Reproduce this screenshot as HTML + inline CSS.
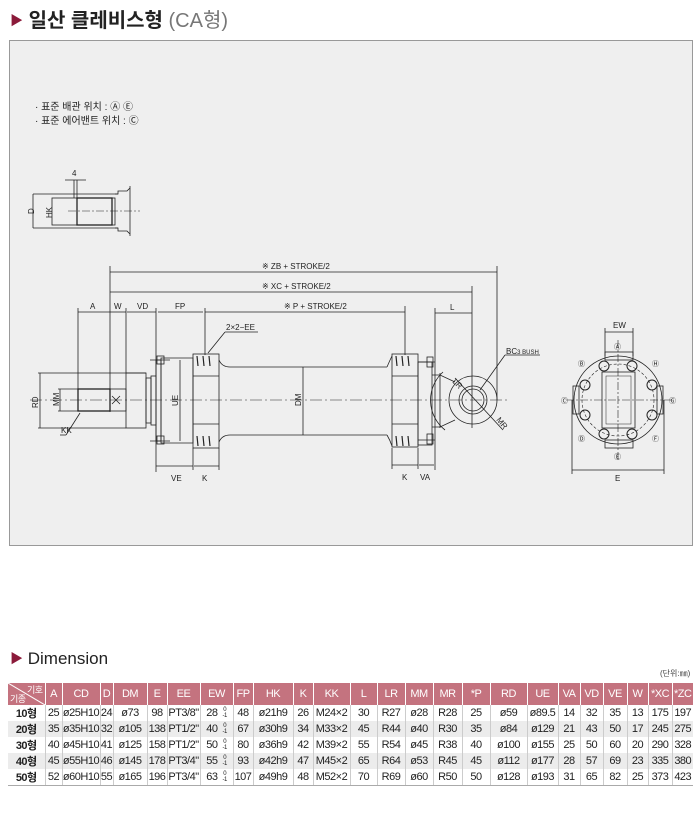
<!DOCTYPE html>
<html><head><meta charset="utf-8"><style>
body{margin:0;width:700px;height:840px;background:#fff;position:relative;overflow:hidden;font-family:"Liberation Sans","Noto Sans CJK KR",sans-serif;}
.t{position:absolute;white-space:nowrap;}
table{position:absolute;left:8px;top:683px;border-collapse:collapse;table-layout:fixed;font-size:11px;letter-spacing:-0.5px;}
td,th{padding:0;text-align:center;overflow:hidden;white-space:nowrap;}
th{background:#c4737f;color:#fff;font-weight:normal;height:22px;border-left:1px solid #fff;font-size:11px;}
td{height:15px;border-left:1px solid #ccc;color:#222;}
tr.g td{background:#ececec;}
td.f{font-weight:bold;border-left:none;}
tbody tr:last-child td{border-bottom:1px solid #aaa;}
sup.s{display:inline-block;font-size:6px;line-height:6px;vertical-align:middle;margin-left:5px;text-align:center}
</style></head><body>
<div class="t" style="left:10px;top:4px;font-size:20px;color:#222;"><span style="color:#8b1a3a;font-size:13px;vertical-align:2px;">▶</span> <b style="font-weight:bold">일산 클레비스형</b> <span style="color:#777">(CA형)</span></div>
<div style="position:absolute;left:9px;top:40px;width:682px;height:504px;background:#efefef;border:1px solid #999;"></div>
<div class="t" style="left:35px;top:101px;font-size:10px;color:#222;line-height:14px;">· 표준 배관 위치 : Ⓐ Ⓔ<br>· 표준 에어밴트 위치 : Ⓒ</div>
<svg style="position:absolute;left:0;top:0" width="700" height="560" font-family="Liberation Sans, sans-serif" font-size="8" fill="none" stroke="#222" stroke-width="0.8">
<g>
<line x1="33" y1="194" x2="118" y2="194"/><line x1="33" y1="228" x2="118" y2="228"/>
<line x1="33" y1="194" x2="33" y2="228"/>
<rect x="52" y="198" width="63" height="27"/>
<rect x="77" y="198" width="35" height="27" stroke-width="1.3"/>
<path d="M115 194 L118 194 L118 191 L127 191 L130 188 M115 228 L118 228 L118 231 L127 231 L130 234"/>
<line x1="130" y1="186" x2="130" y2="236"/>
<line x1="68" y1="211" x2="140" y2="211" stroke-dasharray="8 2 2 2" stroke-width="0.6"/>
<line x1="74" y1="180" x2="74" y2="198"/><line x1="77" y1="180" x2="77" y2="198"/>
<line x1="65" y1="180" x2="86" y2="180"/>
</g>
<g stroke="none" fill="#222">
<text x="72" y="176">4</text>
<text x="0" y="0" transform="translate(34,214) rotate(-90)">D</text>
<text x="0" y="0" transform="translate(52,218) rotate(-90)">HK</text>
</g>
<line x1="110" y1="272" x2="497" y2="272"/><line x1="110" y1="292" x2="472" y2="292"/>
<line x1="205" y1="312" x2="405" y2="312"/>
<line x1="110" y1="266" x2="110" y2="412"/>
<line x1="497" y1="266" x2="497" y2="400"/><line x1="472" y1="286" x2="472" y2="428"/>
<line x1="405" y1="306" x2="405" y2="355"/>
<line x1="78" y1="312" x2="110" y2="312"/><line x1="110" y1="312" x2="126" y2="312"/><line x1="127" y1="312" x2="156" y2="312"/><line x1="158" y1="312" x2="203" y2="312"/>
<line x1="78" y1="308" x2="78" y2="392"/><line x1="126" y1="308" x2="126" y2="373"/><line x1="156" y1="308" x2="156" y2="472"/><line x1="205" y1="308" x2="205" y2="355"/>
<line x1="435" y1="313" x2="472" y2="313"/><line x1="435" y1="308" x2="435" y2="470"/>
<line x1="156" y1="466" x2="193" y2="466"/><line x1="194" y1="466" x2="219" y2="466"/>
<line x1="193" y1="448" x2="193" y2="470"/><line x1="219" y1="448" x2="219" y2="470"/>
<line x1="392" y1="465" x2="418" y2="465"/><line x1="419" y1="465" x2="434" y2="465"/>
<line x1="392" y1="448" x2="392" y2="469"/><line x1="418" y1="448" x2="418" y2="469"/>
<line x1="38" y1="373" x2="146" y2="373"/><line x1="38" y1="428" x2="126" y2="428"/>
<line x1="40" y1="373" x2="40" y2="428"/>
<line x1="58" y1="389" x2="110" y2="389"/><line x1="58" y1="411" x2="110" y2="411"/><line x1="60" y1="389" x2="60" y2="411"/>
<rect x="78" y="389" width="32" height="22" stroke-width="1.3"/>
<rect x="110" y="389" width="16" height="22"/>
<path d="M112 396 L120 404 M120 396 L112 404"/>
<rect x="126" y="373" width="20" height="55"/>
<rect x="146" y="378" width="5" height="45"/><rect x="151" y="376" width="5" height="49"/>
<rect x="156" y="360" width="5" height="81"/>
<path d="M161 358 L193 358 L193 443 L161 443 Z"/>
<rect x="157" y="356" width="7" height="8"/><rect x="157" y="436" width="7" height="8"/>
<line x1="150" y1="360" x2="170" y2="360"/><line x1="150" y1="441" x2="170" y2="441"/>
<line x1="180" y1="360" x2="180" y2="441"/>
<rect x="193" y="354" width="26" height="94"/>
<line x1="193" y1="376" x2="219" y2="376"/><line x1="193" y1="424" x2="219" y2="424"/>
<path d="M197 356 l1 10 M203 356 l1 10 M209 356 l1 10 M197 436 l1 10 M203 436 l1 10 M209 436 l1 10" stroke-width="1.2"/>
<path d="M219 360 Q222 367 230 367 L387 367 M219 442 Q222 435 230 435 L387 435"/>
<line x1="303" y1="367" x2="303" y2="435"/>
<path d="M387 367 Q390 360 392 356 M387 435 Q390 440 392 446"/>
<rect x="392" y="354" width="26" height="93"/>
<line x1="392" y1="376" x2="418" y2="376"/><line x1="392" y1="424" x2="418" y2="424"/>
<path d="M396 356 l1 10 M402 356 l1 10 M408 356 l1 10 M396 436 l1 10 M402 436 l1 10 M408 436 l1 10" stroke-width="1.2"/>
<rect x="418" y="362" width="14" height="83"/>
<rect x="427" y="357" width="6" height="10"/><rect x="427" y="434" width="6" height="10"/>
<line x1="418" y1="362" x2="435" y2="362"/><line x1="418" y1="440" x2="435" y2="440"/>
<path d="M432 375 L440 375 L455 382 M432 427 L440 427 L455 420"/>
<line x1="440" y1="373" x2="440" y2="428"/>
<circle cx="473" cy="400" r="24"/>
<circle cx="473" cy="400" r="14"/><circle cx="473" cy="400" r="11"/>
<path d="M443 372 A38 38 0 0 0 445 430" />
<line x1="455" y1="378" x2="503" y2="430"/>
<line x1="480" y1="390" x2="505" y2="355"/><line x1="505" y1="355" x2="540" y2="355"/>
<line x1="208" y1="353" x2="225" y2="332"/><line x1="225" y1="332" x2="258" y2="332"/>
<line x1="66" y1="435" x2="80" y2="413"/><line x1="60" y1="435" x2="66" y2="435"/>
<line x1="30" y1="400" x2="510" y2="400" stroke-dasharray="12 3 2 3" stroke-width="0.6"/>
<circle cx="618" cy="400" r="44"/>
<circle cx="618" cy="400" r="36" stroke-dasharray="3 2" stroke-width="0.6"/>
<rect x="602" y="372" width="33" height="56"/>
<rect x="606" y="376" width="25" height="48" stroke-width="0.5"/>
<rect x="605" y="352" width="28" height="8"/><rect x="605" y="440" width="28" height="8"/>
<rect x="573" y="386" width="6" height="28"/><rect x="657" y="386" width="6" height="28"/>
<g stroke-width="1"><circle cx="604" cy="366" r="5"/><circle cx="632" cy="366" r="5"/><circle cx="585" cy="385" r="5"/><circle cx="652" cy="385" r="5"/><circle cx="585" cy="415" r="5"/><circle cx="652" cy="415" r="5"/><circle cx="604" cy="434" r="5"/><circle cx="632" cy="434" r="5"/></g>
<line x1="566" y1="400" x2="672" y2="400" stroke-dasharray="8 2 2 2" stroke-width="0.6"/>
<line x1="618" y1="340" x2="618" y2="460" stroke-dasharray="8 2 2 2" stroke-width="0.6"/>
<line x1="605" y1="332" x2="633" y2="332"/><line x1="605" y1="328" x2="605" y2="356"/><line x1="633" y1="328" x2="633" y2="356"/>
<line x1="572" y1="470" x2="664" y2="470"/><line x1="572" y1="400" x2="572" y2="474"/><line x1="664" y1="400" x2="664" y2="474"/>
<g stroke="none" fill="#222">
<text x="262" y="269">※ ZB + STROKE/2</text>
<text x="262" y="289">※ XC + STROKE/2</text>
<text x="284" y="309">※ P + STROKE/2</text>
<text x="90" y="309">A</text><text x="114" y="309">W</text><text x="137" y="309">VD</text><text x="175" y="309">FP</text>
<text x="450" y="310">L</text>
<text x="226" y="330">2×2−EE</text>
<text x="506" y="354">BC<tspan font-size="6">3 BUSH</tspan></text>
<text x="61" y="433">KK</text>
<text x="171" y="481">VE</text><text x="202" y="481">K</text>
<text x="402" y="480">K</text><text x="420" y="480">VA</text>
<text x="613" y="328">EW</text><text x="615" y="481">E</text>
<text transform="translate(38,408) rotate(-90)">RD</text>
<text transform="translate(59,406) rotate(-90)">MM</text>
<text transform="translate(178,406) rotate(-90)">UE</text>
<text transform="translate(301,406) rotate(-90)">DM</text>
<text transform="translate(452,382) rotate(45)">LR</text>
<text transform="translate(496,420) rotate(50)">MR</text>
<g font-size="7"><text x="614" y="349">Ⓐ</text><text x="578" y="366">Ⓑ</text><text x="652" y="366">Ⓗ</text><text x="561" y="403">Ⓒ</text><text x="669" y="403">Ⓖ</text><text x="578" y="441">Ⓓ</text><text x="652" y="441">Ⓕ</text><text x="614" y="459">Ⓔ</text></g>
</g>
</svg>
<div class="t" style="left:10px;top:648px;font-size:17px;color:#222;"><span style="color:#8b1a3a;font-size:13px;vertical-align:1px;">▶</span> Dimension</div>
<div class="t" style="left:660px;top:668px;font-size:8px;color:#444;">(단위:㎜)</div>
<table>
<colgroup><col style="width:37px"><col style="width:17px"><col style="width:38px"><col style="width:13px"><col style="width:34px"><col style="width:20px"><col style="width:33px"><col style="width:33px"><col style="width:20px"><col style="width:40px"><col style="width:20px"><col style="width:37px"><col style="width:27px"><col style="width:28px"><col style="width:28px"><col style="width:29px"><col style="width:28px"><col style="width:37px"><col style="width:31px"><col style="width:22px"><col style="width:23px"><col style="width:24px"><col style="width:21px"><col style="width:24px"><col style="width:21px"></colgroup>
<thead><tr><th style="border-left:none;position:relative;font-size:9px;"><svg style="position:absolute;left:0;top:0" width="37" height="22"><line x1="0" y1="0" x2="37" y2="22" stroke="#fff"/></svg><span style="position:absolute;right:2px;top:0">기호</span><span style="position:absolute;left:2px;bottom:0">기종</span></th><th>A</th><th>CD</th><th>D</th><th>DM</th><th>E</th><th>EE</th><th>EW</th><th>FP</th><th>HK</th><th>K</th><th>KK</th><th>L</th><th>LR</th><th>MM</th><th>MR</th><th>*P</th><th>RD</th><th>UE</th><th>VA</th><th>VD</th><th>VE</th><th>W</th><th>*XC</th><th>*ZC</th></tr></thead>
<tbody>
<tr><td class="f">10형</td><td>25</td><td>ø25H10</td><td>24</td><td>ø73</td><td>98</td><td>PT3/8"</td><td>28<sup class="s">0<br>-1</sup></td><td>48</td><td>ø21h9</td><td>26</td><td>M24×2</td><td>30</td><td>R27</td><td>ø28</td><td>R28</td><td>25</td><td>ø59</td><td>ø89.5</td><td>14</td><td>32</td><td>35</td><td>13</td><td>175</td><td>197</td></tr>
<tr class="g"><td class="f">20형</td><td>35</td><td>ø35H10</td><td>32</td><td>ø105</td><td>138</td><td>PT1/2"</td><td>40<sup class="s">0<br>-1</sup></td><td>67</td><td>ø30h9</td><td>34</td><td>M33×2</td><td>45</td><td>R44</td><td>ø40</td><td>R30</td><td>35</td><td>ø84</td><td>ø129</td><td>21</td><td>43</td><td>50</td><td>17</td><td>245</td><td>275</td></tr>
<tr><td class="f">30형</td><td>40</td><td>ø45H10</td><td>41</td><td>ø125</td><td>158</td><td>PT1/2"</td><td>50<sup class="s">0<br>-1</sup></td><td>80</td><td>ø36h9</td><td>42</td><td>M39×2</td><td>55</td><td>R54</td><td>ø45</td><td>R38</td><td>40</td><td>ø100</td><td>ø155</td><td>25</td><td>50</td><td>60</td><td>20</td><td>290</td><td>328</td></tr>
<tr class="g"><td class="f">40형</td><td>45</td><td>ø55H10</td><td>46</td><td>ø145</td><td>178</td><td>PT3/4"</td><td>55<sup class="s">0<br>-1</sup></td><td>93</td><td>ø42h9</td><td>47</td><td>M45×2</td><td>65</td><td>R64</td><td>ø53</td><td>R45</td><td>45</td><td>ø112</td><td>ø177</td><td>28</td><td>57</td><td>69</td><td>23</td><td>335</td><td>380</td></tr>
<tr><td class="f">50형</td><td>52</td><td>ø60H10</td><td>55</td><td>ø165</td><td>196</td><td>PT3/4"</td><td>63<sup class="s">0<br>-1</sup></td><td>107</td><td>ø49h9</td><td>48</td><td>M52×2</td><td>70</td><td>R69</td><td>ø60</td><td>R50</td><td>50</td><td>ø128</td><td>ø193</td><td>31</td><td>65</td><td>82</td><td>25</td><td>373</td><td>423</td></tr>
</tbody></table>
</body></html>
